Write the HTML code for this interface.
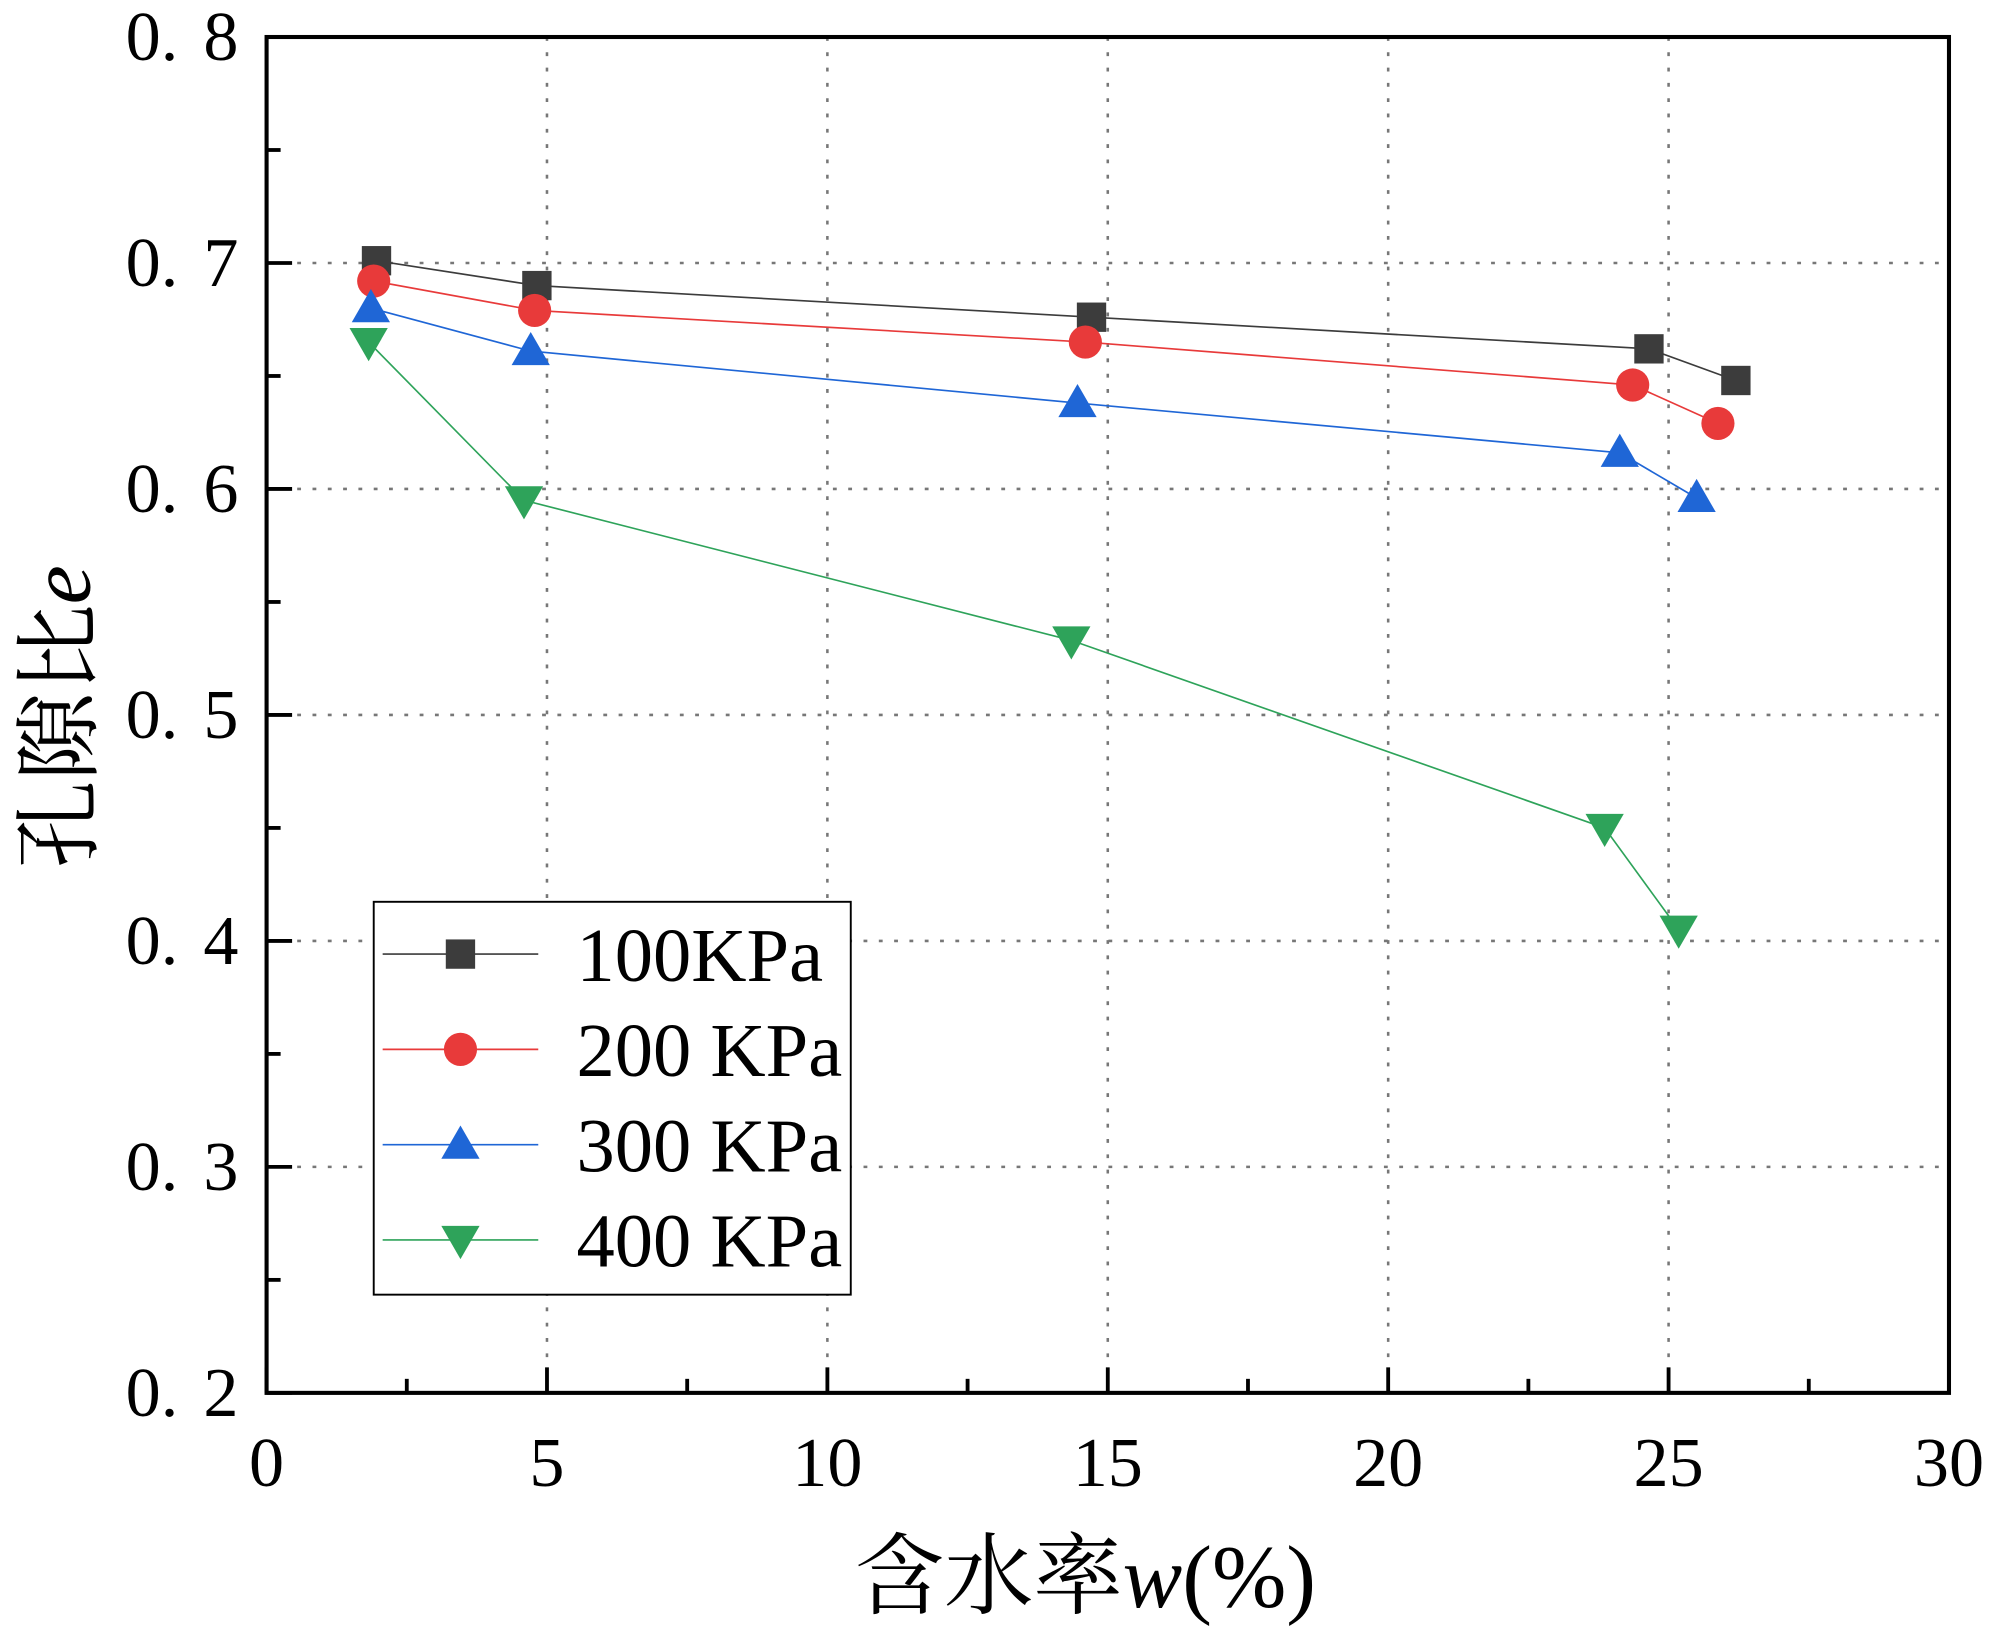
<!DOCTYPE html>
<html><head><meta charset="utf-8"><style>
html,body{margin:0;padding:0;background:#fff}
svg{display:block}
text{font-family:"Liberation Serif","Noto Serif CJK SC",serif;fill:#000}
</style></head><body>
<svg id="chart" width="2000" height="1636" viewBox="0 0 1568 1282.6" xmlns="http://www.w3.org/2000/svg"></svg>
<script>
const xTicks=[0,5,10,15,20,25,30];
const yTicks=[0.2,0.3,0.4,0.5,0.6,0.7,0.8];
const yTickLabels=["0. 2","0. 3","0. 4","0. 5","0. 6","0. 7","0. 8"];
const seriesNames=["100KPa","200 KPa","300 KPa","400 KPa"];
const x100=[1.96,4.82,14.71,24.65,26.2];
const y100=[0.701,0.690,0.676,0.662,0.648];
const x200=[1.91,4.78,14.6,24.36,25.88];
const y200=[0.692,0.679,0.665,0.646,0.629];
const x300=[1.86,4.71,14.46,24.13,25.5];
const y300=[0.680,0.661,0.638,0.616,0.596];
const x400=[1.82,4.59,14.35,23.86,25.18];
const y400=[0.665,0.595,0.533,0.450,0.405];
const colors=["#3c3c3c","#e83a3a","#1f66d6","#2ea35a"];
const markers=["square","circle","up","down"];

const NS="http://www.w3.org/2000/svg";
const svg=document.getElementById('chart');
const L=209,R=1528,T=29,B=1092;
const sx=v=>L+(v-0)/(30-0)*(R-L);
const sy=v=>B-(v-0.2)/(0.8-0.2)*(B-T);
function mk(tag,attrs,parent){const e=document.createElementNS(NS,tag);for(const k in attrs)e.setAttribute(k,attrs[k]);(parent||svg).appendChild(e);return e;}

const grid=mk('g',{});


xTicks.slice(1,-1).forEach(v=>{const l=mk('line',{x1:sx(v),x2:sx(v),y1:T,y2:B,stroke:'#777','stroke-width':2,'stroke-dasharray':'3 9'},grid);});
yTicks.slice(1,-1).forEach(v=>{const l=mk('line',{x1:L,x2:R,y1:sy(v),y2:sy(v),stroke:'#777','stroke-width':2,'stroke-dasharray':'3 9'},grid);});

const ticks=mk('g',{stroke:'#000','stroke-width':3});


xTicks.forEach((v,i)=>{mk('line',{x1:sx(v),x2:sx(v),y1:B,y2:B-20},ticks);if(i<xTicks.length-1){const m=(v+xTicks[i+1])/2;mk('line',{x1:sx(m),x2:sx(m),y1:B,y2:B-11},ticks);}});
yTicks.forEach((v,i)=>{mk('line',{x1:L,x2:L+20,y1:sy(v),y2:sy(v)},ticks);if(i<yTicks.length-1){const m=(v+yTicks[i+1])/2;mk('line',{x1:L,x2:L+11,y1:sy(m),y2:sy(m)},ticks);}});

const fr=mk('rect',{x:L,y:T,width:R-L,height:B-T,fill:'none',stroke:'#000','stroke-width':3.2});



xTicks.forEach(v=>{const t=mk('text',{x:sx(v),y:B+73,'font-size':55,'text-anchor':'middle'});t.textContent=String(v);});
yTicks.forEach((v,i)=>{const t=mk('text',{x:L-22,y:sy(v)+18,'font-size':55,'text-anchor':'end','word-spacing':6});t.textContent=yTickLabels[i];});

const xt=mk('text',{x:851,y:1260,'font-size':70,'text-anchor':'middle'});


xt.innerHTML='含水率<tspan font-style="italic">w</tspan>(%)';
const yt=mk('text',{x:0,y:0,'font-size':69,'text-anchor':'middle',transform:'translate(70,562) rotate(-90)'});


yt.innerHTML='孔隙比<tspan font-style="italic">e</tspan>';

function marker(type,cx,cy,color,parent){
  if(type==='square')return mk('rect',{x:cx-11.5,y:cy-11.5,width:23,height:23,fill:color},parent);
  if(type==='circle')return mk('circle',{cx:cx,cy:cy,r:13,fill:color},parent);
  if(type==='up')return mk('polygon',{points:`${cx-15},${cy+11} ${cx+15},${cy+11} ${cx},${cy-15}`,fill:color},parent);
  return mk('polygon',{points:`${cx-15},${cy-11} ${cx+15},${cy-11} ${cx},${cy+15}`,fill:color},parent);
}

const allX=[x100,x200,x300,x400], allY=[y100,y200,y300,y400];
allX.forEach((xs,s)=>{
  const g=mk('g',{});
  
  
  const pl=mk('polyline',{points:xs.map((x,i)=>sx(x)+','+sy(allY[s][i])).join(' '),fill:'none',stroke:colors[s],'stroke-width':1.3},g);
  
  
  xs.forEach((x,i)=>{const m=marker(markers[s],sx(x),sy(allY[s][i]),colors[s],g);});
});

const lg=mk('g',{});


const lb=mk('rect',{x:293,y:707,width:374,height:308,fill:'#fff',stroke:'#000','stroke-width':1.5},lg);


seriesNames.forEach((n,s)=>{
  const y=748+s*74.7;
  const e=mk('g',{},lg);
  
  
  mk('line',{x1:300,x2:422,y1:y,y2:y,stroke:colors[s],'stroke-width':1.3},e);
  marker(markers[s],361,y,colors[s],e);
  const t=mk('text',{x:452,y:y+21,'font-size':60},e);
  t.textContent=n;
});
</script>
</body></html>
